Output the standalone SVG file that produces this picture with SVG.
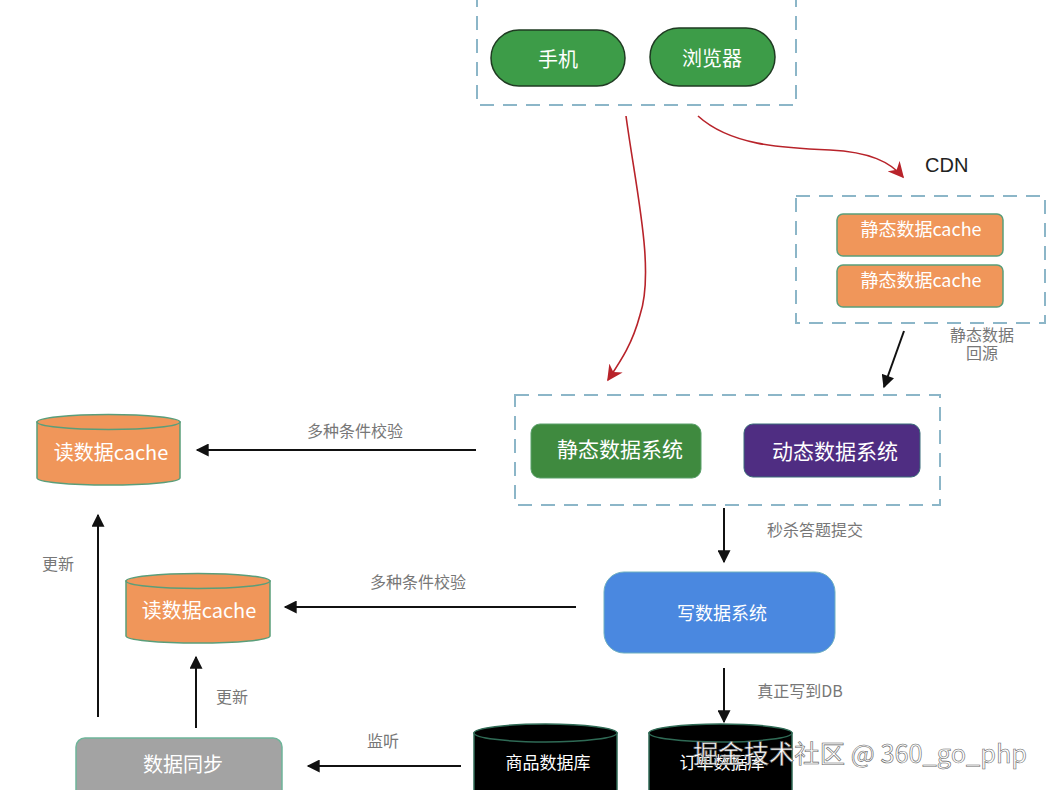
<svg xmlns="http://www.w3.org/2000/svg" width="1050" height="790" viewBox="0 0 1050 790">
<style>
.dash{fill:none;stroke:#8cb6c8;stroke-width:2;stroke-dasharray:14 9}
.t{font-family:"Noto Sans CJK SC","Noto Sans",sans-serif;fill:#ffffff;text-anchor:middle;dominant-baseline:central}
.lbl{font-family:"Noto Sans CJK SC","Noto Sans",sans-serif;fill:#777;font-size:16px;text-anchor:middle;dominant-baseline:central}
.blk{fill:none;stroke:#111;stroke-width:2}
.red{fill:none;stroke:#b8232a;stroke-width:1.6}
</style>
<defs>
<marker id="ab" viewBox="0 0 10 10" refX="9" refY="5" markerWidth="14" markerHeight="13" orient="auto" markerUnits="userSpaceOnUse">
<path d="M0,0 L10,5 L0,10 z" fill="#111"/>
</marker>
<marker id="ar" viewBox="0 0 10 10" refX="9" refY="5" markerWidth="16" markerHeight="16" orient="auto" markerUnits="userSpaceOnUse">
<path d="M0,0 L10,5 L0,10 L3,5 z" fill="#b8232a"/>
</marker>
</defs>
<rect width="1050" height="790" fill="#fff"/>

<g id="client-group">
<rect class="dash" x="477" y="-10" width="319" height="115"/>
</g>
<g id="phone">
<rect x="491" y="30" width="134" height="56" rx="28" fill="#3d9c48" stroke="#1f3b22" stroke-width="1.5"/>
<text class="t" x="558" y="58" font-size="20">手机</text>
</g>
<g id="browser">
<rect x="650" y="28" width="125" height="58" rx="29" fill="#3d9c48" stroke="#1f3b22" stroke-width="1.5"/>
<text class="t" x="712" y="57" font-size="20">浏览器</text>
</g>

<g id="cdn">
<text x="925" y="165" font-family="'Liberation Sans',Arial,sans-serif" font-size="20" fill="#222" dominant-baseline="central">CDN</text>
<rect class="dash" x="796" y="196" width="249" height="127"/>
</g>
<g id="cache1">
<rect x="837" y="214" width="166" height="42" rx="6" fill="#f0965a" stroke="#5a9e7a" stroke-width="1.5"/>
<text class="t" x="921" y="228" font-size="18">静态数据cache</text>
</g>
<g id="cache2">
<rect x="837" y="265" width="166" height="42" rx="6" fill="#f0965a" stroke="#5a9e7a" stroke-width="1.5"/>
<text class="t" x="921" y="279" font-size="18">静态数据cache</text>
</g>

<g id="system-group">
<rect class="dash" x="515" y="395" width="425" height="110"/>
</g>
<g id="static-sys">
<rect x="531" y="424" width="170" height="54" rx="9" fill="#3f8a3f" stroke="#5aa06a" stroke-width="1"/>
<text class="t" x="620" y="448" font-size="21">静态数据系统</text>
</g>
<g id="dynamic-sys">
<rect x="744" y="424" width="176" height="53" rx="9" fill="#4f2d82" stroke="#3a6c7a" stroke-width="1"/>
<text class="t" x="835" y="450" font-size="21">动态数据系统</text>
</g>

<g id="write-sys">
<rect x="604" y="572" width="231" height="81" rx="20" fill="#4a88e0" stroke="#6fb0c0" stroke-width="1"/>
<text class="t" x="722" y="612" font-size="18">写数据系统</text>
</g>

<g id="read-cache1">
<path d="M37,422 L37,478 A71.5,7 0 0 0 180,478 L180,422 Z" fill="#f0965a" stroke="#5a9e7a" stroke-width="1.5"/>
<ellipse cx="108.5" cy="422" rx="71.5" ry="7.5" fill="#f0965a" stroke="#5a9e7a" stroke-width="1.5"/>
<text class="t" x="111" y="451" font-size="20">读数据cache</text>
</g>
<g id="read-cache2">
<path d="M126,581 L126,636 A72,7 0 0 0 270,636 L270,581 Z" fill="#f0965a" stroke="#5a9e7a" stroke-width="1.5"/>
<ellipse cx="198" cy="581" rx="72" ry="7.5" fill="#f0965a" stroke="#5a9e7a" stroke-width="1.5"/>
<text class="t" x="199" y="609" font-size="20">读数据cache</text>
</g>

<g id="goods-db">
<path d="M474,733 L474,800 L617,800 L617,733 Z" fill="#000" stroke="#2f6a55" stroke-width="1.5"/>
<ellipse cx="545.5" cy="733" rx="71.5" ry="9" fill="#000" stroke="#2f6a55" stroke-width="1.5"/>
<text class="t" x="548" y="761" font-size="17">商品数据库</text>
</g>
<g id="order-db">
<path d="M649,733 L649,800 L792,800 L792,733 Z" fill="#000" stroke="#2f6a55" stroke-width="1.5"/>
<ellipse cx="720.5" cy="733" rx="71.5" ry="9" fill="#000" stroke="#2f6a55" stroke-width="1.5"/>
<text class="t" x="722" y="761" font-size="17">订单数据库</text>
</g>

<g id="sync">
<rect x="76" y="738" width="206" height="70" rx="9" fill="#a3a3a3" stroke="#6fb59a" stroke-width="1.5"/>
<text class="t" x="183" y="763" font-size="20">数据同步</text>
</g>

<g id="connectors">
<path class="red" d="M626,116 C636,190 655,270 640,315 C632,345 620,362 608,380" marker-end="url(#ar)"/>
<path class="red" d="M698,116 C730,145 780,148 830,150 C870,152 890,162 903,177" marker-end="url(#ar)"/>
<line class="blk" x1="904" y1="331" x2="884" y2="387" stroke-width="1.5" marker-end="url(#ab)"/>
<line class="blk" x1="476" y1="450" x2="197" y2="450" marker-end="url(#ab)"/>
<line class="blk" x1="576" y1="607" x2="285" y2="607" marker-end="url(#ab)"/>
<line class="blk" x1="724" y1="508" x2="724" y2="562" marker-end="url(#ab)"/>
<line class="blk" x1="724" y1="668" x2="724" y2="722" marker-end="url(#ab)"/>
<line class="blk" x1="461" y1="766" x2="308" y2="766" marker-end="url(#ab)"/>
<line class="blk" x1="98" y1="717" x2="98" y2="515" marker-end="url(#ab)"/>
<line class="blk" x1="196" y1="728" x2="196" y2="657" marker-end="url(#ab)"/>
<text class="lbl" font-size="13"><tspan x="982" y="334">静态数据</tspan><tspan x="982" y="352">回源</tspan></text>
<text class="lbl" x="355" y="430">多种条件校验</text>
<text class="lbl" x="418" y="581">多种条件校验</text>
<text class="lbl" x="815" y="529">秒杀答题提交</text>
<text class="lbl" x="800" y="690">真正写到DB</text>
<text class="lbl" x="383" y="740">监听</text>
<text class="lbl" x="58" y="563">更新</text>
<text class="lbl" x="232" y="696">更新</text>
</g>

<text x="693" y="752" textLength="334" lengthAdjust="spacingAndGlyphs" font-family="'Noto Sans CJK SC','Noto Sans',sans-serif" font-size="25" fill="#fff" stroke="#666" stroke-width="0.6" dominant-baseline="central">掘金技术社区 @ 360_go_php</text>
</svg>
